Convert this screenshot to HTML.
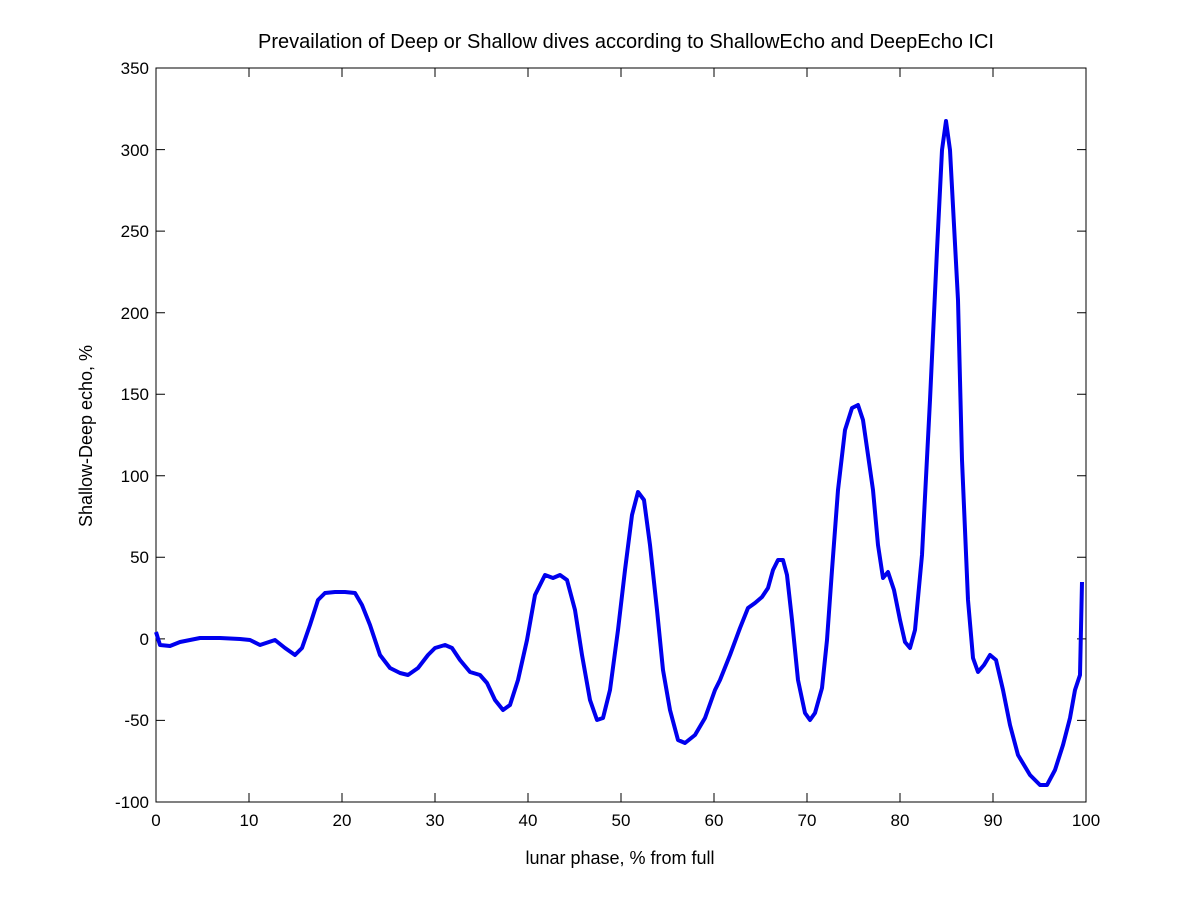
<!DOCTYPE html>
<html><head><meta charset="utf-8"><style>html,body{margin:0;padding:0;background:#fff}svg{display:block}</style></head><body>
<svg width="1200" height="901" xmlns="http://www.w3.org/2000/svg" font-family="Liberation Sans, sans-serif" font-size="17">
<rect width="1200" height="901" fill="#fff"/>
<rect x="156" y="68" width="930" height="734" fill="none" stroke="#000" stroke-width="1"/>
<g stroke="#000" stroke-width="1">
<path d="M156,802v-9M249,802v-9M342,802v-9M435,802v-9M528,802v-9M621,802v-9M714,802v-9M807,802v-9M900,802v-9M993,802v-9M1086,802v-9
M156,68v9M249,68v9M342,68v9M435,68v9M528,68v9M621,68v9M714,68v9M807,68v9M900,68v9M993,68v9M1086,68v9"/>
<path d="M156,802h9M156,720.4h9M156,638.9h9M156,557.3h9M156,475.8h9M156,394.2h9M156,312.7h9M156,231.1h9M156,149.6h9M156,68h9
M1086,802h-9M1086,720.4h-9M1086,638.9h-9M1086,557.3h-9M1086,475.8h-9M1086,394.2h-9M1086,312.7h-9M1086,231.1h-9M1086,149.6h-9M1086,68h-9"/>
</g>
<g text-anchor="middle">
<text x="156" y="826">0</text><text x="249" y="826">10</text><text x="342" y="826">20</text><text x="435" y="826">30</text><text x="528" y="826">40</text><text x="621" y="826">50</text><text x="714" y="826">60</text><text x="807" y="826">70</text><text x="900" y="826">80</text><text x="993" y="826">90</text><text x="1086" y="826">100</text>
</g>
<g text-anchor="end">
<text x="149" y="808">-100</text><text x="149" y="726">-50</text><text x="149" y="645">0</text><text x="149" y="563">50</text><text x="149" y="482">100</text><text x="149" y="400">150</text><text x="149" y="319">200</text><text x="149" y="237">250</text><text x="149" y="156">300</text><text x="149" y="74">350</text>
</g>
<text x="620" y="864" text-anchor="middle" font-size="18">lunar phase, % from full</text>
<text x="0" y="0" transform="translate(92,436) rotate(-90)" text-anchor="middle" font-size="18">Shallow-Deep echo, %</text>
<text x="626" y="48" text-anchor="middle" font-size="20">Prevailation of Deep or Shallow dives according to ShallowEcho and DeepEcho ICI</text>
<polyline fill="none" stroke="#0000ee" stroke-width="4" stroke-linejoin="round" points="156,632 160,645 170,646 180,642 200,638 220,638 240,639 250,640 260,645 275,640 285,648 295,655 302,648 310,625 318,600 325,593 335,592 345,592 355,593 362,605 370,625 380,655 390,668 400,673 408,675 418,668 428,655 435,648 445,645 452,648 460,660 470,672 480,675 487,683 495,700 503,710 510,705 518,680 527,640 535,595 545,575 553,578 560,575 567,580 575,610 582,655 590,700 597,720 603,718 610,690 618,630 625,570 632,515 638,492 644,500 650,545 657,610 663,670 670,710 678,740 685,743 695,735 705,718 715,690 720,680 730,655 740,628 748,608 755,603 762,597 768,588 773,570 778,560 783,560 787,575 792,620 798,680 805,713 810,720 815,713 822,688 827,640 832,570 838,490 845,430 852,408 858,405 863,420 868,455 873,490 878,545 883,578 888,572 894,590 900,620 905,642 910,648 915,630 922,555 930,400 937,250 942,150 946,121 950,150 958,300 962,460 968,600 973,658 978,672 984,665 990,655 996,660 1003,690 1010,725 1018,755 1030,775 1040,785 1047,785 1055,770 1063,745 1070,718 1075,690 1080,675 1082,582"/>
</svg>
</body></html>
